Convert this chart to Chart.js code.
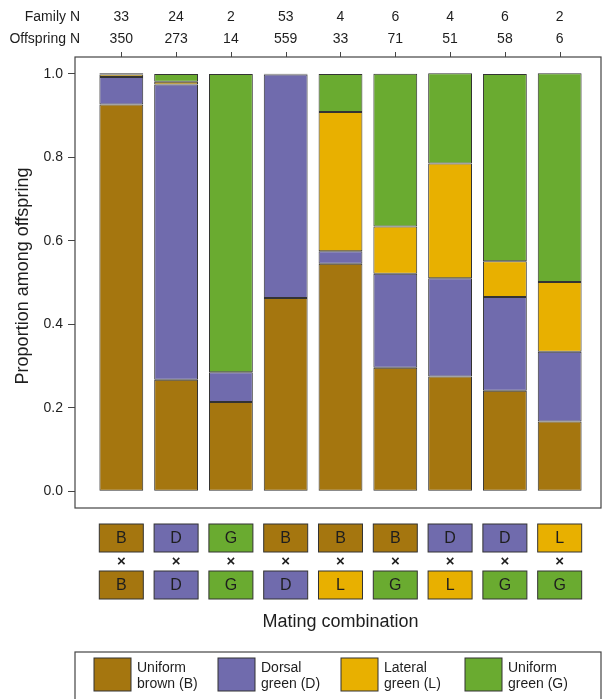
<!DOCTYPE html>
<html><head><meta charset="utf-8">
<script src="https://cdn.jsdelivr.net/npm/chart.js@4.4.1/dist/chart.umd.min.js"></script>
<style>html,body{margin:0;padding:0;background:#fff}#wrap{width:603px;height:699px;position:relative}</style>
</head><body><div id="wrap"><canvas id="c" width="603" height="699"></canvas></div>
<script>
// ---- data ----
const matingTop    = ['B','D','G','B','B','B','D','D','L'];
const matingBottom = ['B','D','G','D','L','G','L','G','G'];
const familyN      = [33, 24, 2, 53, 4, 6, 4, 6, 2];
const offspringN   = [350, 273, 14, 559, 33, 71, 51, 58, 6];
const brownB   = [0.926, 0.267, 0.214, 0.463, 0.545, 0.296, 0.275, 0.241, 0.167];
const dorsalD  = [0.066, 0.707, 0.071, 0.535, 0.030, 0.225, 0.235, 0.224, 0.167];
const lateralL = [0.006, 0.007, 0.000, 0.000, 0.333, 0.113, 0.275, 0.086, 0.167];
const greenG   = [0.003, 0.018, 0.714, 0.002, 0.091, 0.366, 0.216, 0.448, 0.500];
const yTicks   = [0, 0.2, 0.4, 0.6, 0.8, 1.0];
const morphCodes = ['B', 'D', 'L', 'G'];
const morphNames = [['Uniform', 'brown (B)'], ['Dorsal', 'green (D)'], ['Lateral', 'green (L)'], ['Uniform', 'green (G)']];

// ---- styles ----
const COLORS = {B: '#A5760F', D: '#706BAD', L: '#E8B000', G: '#6AAB30'};
const EDGE = '#333333';
const TEXT = '#1e1e1e';
const FONT = '"Liberation Sans", Arial, Helvetica, sans-serif';

const seriesValues = [brownB, dorsalD, lateralL, greenG];
const datasets = seriesValues.map((vals, k) => ({
  label: morphNames[k].join(' '),
  data: vals.map((v, i) => ({x: i + 1, y: v})),
  backgroundColor: COLORS[morphCodes[k]],
  borderColor: EDGE,
  borderWidth: 1,
  borderSkipped: false,
  barPercentage: 0.8,
  categoryPercentage: 1.0
}));

const extras = {
  id: 'extras',
  afterDraw(chart) {
    const ctx = chart.ctx, a = chart.chartArea, xs = chart.scales.x;
    ctx.save();
    // frame
    ctx.strokeStyle = '#444';
    ctx.lineWidth = 1.2;
    ctx.strokeRect(a.left, a.top, a.right - a.left, a.bottom - a.top);

    // top sample sizes
    ctx.fillStyle = TEXT;
    ctx.font = '14px ' + FONT;
    ctx.textBaseline = 'middle';
    ctx.textAlign = 'right';
    ctx.fillText('Family N', 80, 17);
    ctx.fillText('Offspring N', 80, 39.5);
    ctx.textAlign = 'center';
    ctx.lineWidth = 1;
    ctx.strokeStyle = '#444';
    familyN.forEach((f, i) => {
      const x = xs.getPixelForValue(i + 1);
      ctx.fillText(String(f), x, 17);
      ctx.fillText(String(offspringN[i]), x, 39.5);
      ctx.beginPath();
      ctx.moveTo(Math.round(x) + 0.5, a.top);
      ctx.lineTo(Math.round(x) + 0.5, a.top - 5);
      ctx.stroke();
    });

    // y title
    ctx.save();
    ctx.translate(23, 276);
    ctx.rotate(-Math.PI / 2);
    ctx.font = '18px ' + FONT;
    ctx.textAlign = 'center';
    ctx.textBaseline = 'middle';
    ctx.fillText('Proportion among offspring', 0, 0);
    ctx.restore();

    // mating combination boxes
    const bw = 44, bh = 28;
    const drawBox = (cx, top, code) => {
      ctx.fillStyle = COLORS[code];
      ctx.fillRect(cx - bw / 2, top, bw, bh);
      ctx.strokeStyle = EDGE;
      ctx.lineWidth = 1;
      ctx.strokeRect(cx - bw / 2, top, bw, bh);
      ctx.fillStyle = TEXT;
      ctx.font = '16px ' + FONT;
      ctx.textAlign = 'center';
      ctx.textBaseline = 'middle';
      ctx.fillText(code, cx, top + bh / 2 + 1);
    };
    matingTop.forEach((m, i) => {
      const cx = xs.getPixelForValue(i + 1);
      drawBox(cx, 524, m);
      ctx.fillStyle = TEXT;
      ctx.font = 'bold 15px ' + FONT;
      ctx.fillText('×', cx, 562);
      drawBox(cx, 571, matingBottom[i]);
    });

    // x title
    ctx.fillStyle = TEXT;
    ctx.font = '18px ' + FONT;
    ctx.textAlign = 'center';
    ctx.textBaseline = 'middle';
    const mid = (xs.getPixelForValue(1) + xs.getPixelForValue(matingTop.length)) / 2;
    ctx.fillText('Mating combination', mid, 622);

    // legend
    ctx.strokeStyle = '#444';
    ctx.lineWidth = 1.2;
    ctx.strokeRect(a.left, 652, a.right - a.left, 80);
    const lx = [94, 218, 341, 465];
    morphCodes.forEach((code, k) => {
      ctx.fillStyle = COLORS[code];
      ctx.fillRect(lx[k], 658, 37, 33);
      ctx.strokeStyle = EDGE;
      ctx.lineWidth = 1;
      ctx.strokeRect(lx[k], 658, 37, 33);
      ctx.fillStyle = TEXT;
      ctx.font = '14px ' + FONT;
      ctx.textAlign = 'left';
      ctx.textBaseline = 'middle';
      ctx.fillText(morphNames[k][0], lx[k] + 43, 668);
      ctx.fillText(morphNames[k][1], lx[k] + 43, 684);
    });
    ctx.restore();
  }
};

new Chart(document.getElementById('c'), {
  type: 'bar',
  data: {datasets},
  options: {
    responsive: false,
    animation: false,
    devicePixelRatio: 1,
    layout: {padding: {top: 57, right: 2, bottom: 191, left: 0}},
    plugins: {legend: {display: false}, tooltip: {enabled: false}},
    scales: {
      x: {
        type: 'linear', stacked: true, display: false, offset: false,
        min: 0.155, max: 9.754
      },
      y: {
        stacked: true, min: -0.04, max: 1.04,
        afterBuildTicks: s => { s.ticks = yTicks.map(v => ({value: v})); },
        afterFit: s => { s.width = 75; },
        border: {display: false},
        grid: {drawOnChartArea: false, drawTicks: true, tickLength: 7, color: '#444', lineWidth: 1},
        ticks: {
          padding: 5, color: TEXT,
          font: {family: FONT, size: 14},
          callback: v => Number(v).toFixed(1)
        }
      }
    }
  },
  plugins: [extras]
});
</script>
</body></html>
